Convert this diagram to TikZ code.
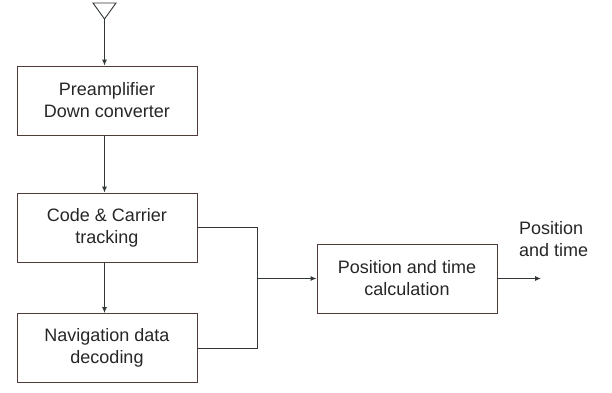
\documentclass[tikz,border=0pt]{standalone}
\usepackage{fontspec}
\setmainfont{Liberation Sans}
\usetikzlibrary{positioning,arrows.meta}
\definecolor{edge}{RGB}{50,55,55}
\definecolor{frame}{RGB}{78,60,57}

\begin{document}
\begin{tikzpicture}
    [
    x=1pt,y=-1pt,
    block/.style={rectangle,draw=frame,line width=0.9pt,minimum width=180pt,minimum height=69pt,align=center,text=black!85,font=\fontsize{18}{22}\selectfont},
    link/.style={draw=edge,line width=0.9pt},
    tip/.style={-{Latex[length=6pt,width=5pt]}}
    ]
    \useasboundingbox (0,0) rectangle (612,392);

    \node (pre) at (107,100.5) [block] {Preamplifier\\Down converter};
    \node (trk) at (107,227.5) [block] {Code \& Carrier\\tracking};
    \node (nav) at (107,348) [block] {Navigation data\\decoding};
    \node (pvt) at (407,278.5) [block] {Position and time\\calculation};

    % antenna
    \coordinate (ant) at (104.5,19);
    \draw [link] (93,3) -- (116,3) -- (ant) -- cycle;
    \draw [link,tip] (ant) to (ant |- pre.north);
    \draw [link,tip] (ant |- pre.south) to (ant |- trk.north);
    \draw [link,tip] (ant |- trk.south) to (ant |- nav.north);

    \coordinate (join) at (257,278.5);
    \draw [link] (trk.east) -| (join);
    \draw [link] (nav.east) -| (join);
    \draw [link,tip] (join) to (pvt.west);

    \coordinate (out) at (541,278.5);
    \draw [link,tip] (pvt.east) to (out);
    \node (res) at (519,221) [anchor=north west,align=left,inner sep=0pt,text=black!85,font=\fontsize{18}{22}\selectfont] {Position\\and time};
  \end{tikzpicture}
\end{document}
